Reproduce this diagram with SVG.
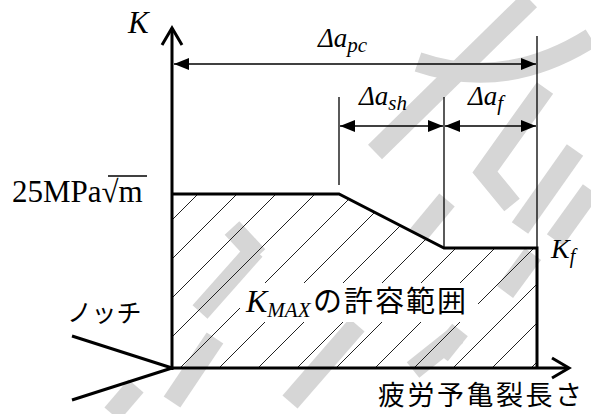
<svg xmlns="http://www.w3.org/2000/svg" width="591" height="414" viewBox="0 0 591 414">
<defs>
<style>
.ax{stroke:#000;stroke-width:3;fill:none;stroke-linecap:butt}
.dim{stroke:#000;stroke-width:1.3;fill:none}
.hat{stroke:#222;stroke-width:1}
.wm{fill:none;stroke:#d6d6d6;stroke-width:20}
.ser{font-family:"Liberation Serif","Times New Roman",serif;font-style:italic;fill:#000}
.jp{font-family:"Noto Sans CJK JP","Noto Sans",sans-serif;fill:#000}
</style>
<marker id="ah" markerWidth="16" markerHeight="12" refX="15" refY="6" orient="auto-start-reverse" markerUnits="userSpaceOnUse">
<path d="M0,0 L15,6 L0,12 Z" fill="#000"/>
</marker>
<clipPath id="rc"><polygon points="172,194 339,194 444,248 537,248 537,368 172,368"/></clipPath>
</defs>
<rect width="591" height="414" fill="#fff"/>
<g id="watermark">
<path class="wm" stroke-width="24" d="M530,0 L375,152"/>
<path class="wm" d="M418,62 Q505,92 591,38"/>
<path class="wm" d="M545,88 L485,172 L512,205"/>
<path class="wm" d="M575,150 L520,228"/>
<path class="wm" d="M591,190 L555,240"/>
<path class="wm" d="M447,200 L418,235"/>
<path class="wm" d="M255,250 L200,312"/>
<path class="wm" d="M232,228 L258,256"/>
<path class="wm" d="M215,338 L172,402"/>
<path class="wm" d="M136,386 L112,414"/>
<path class="wm" d="M357,325 L290,402"/>
<path class="wm" d="M457,335 L413,370"/>
<path class="wm" d="M533,254 L505,292"/>
<path class="wm" d="M460,330 L440,355"/>
</g>
<g id="region">
<g clip-path="url(#rc)" class="hat">
<line x1="-28" y1="420" x2="392" y2="0"/>
<line x1="11" y1="420" x2="431" y2="0"/>
<line x1="50" y1="420" x2="470" y2="0"/>
<line x1="89" y1="420" x2="509" y2="0"/>
<line x1="128" y1="420" x2="548" y2="0"/>
<line x1="167" y1="420" x2="587" y2="0"/>
<line x1="206" y1="420" x2="626" y2="0"/>
<line x1="245" y1="420" x2="665" y2="0"/>
<line x1="284" y1="420" x2="704" y2="0"/>
<line x1="323" y1="420" x2="743" y2="0"/>
<line x1="362" y1="420" x2="782" y2="0"/>
<line x1="401" y1="420" x2="821" y2="0"/>
<line x1="440" y1="420" x2="860" y2="0"/>
<line x1="479" y1="420" x2="899" y2="0"/>
</g>
<polyline class="ax" points="172,194 339,194 444,248 537,248 537,368"/>
</g>
<g id="axes">
<line class="ax" x1="172" y1="370" x2="172" y2="28"/>
<polyline class="ax" points="162,45 172,28 182,45"/>
<line class="ax" x1="170" y1="368" x2="568" y2="368"/>
<polyline class="ax" points="552,358 569,368 552,378"/>
<line class="ax" x1="172" y1="368" x2="72" y2="336"/>
<line class="ax" x1="172" y1="368" x2="72" y2="400"/>
</g>
<g id="connectors">
<line class="dim" x1="339" y1="97" x2="339" y2="185"/>
<line class="dim" x1="444" y1="97" x2="444" y2="248"/>
<line class="dim" x1="537" y1="36" x2="537" y2="248"/>
<line class="dim" x1="174" y1="64" x2="536" y2="64" marker-start="url(#ah)" marker-end="url(#ah)"/>
<line class="dim" x1="340" y1="126" x2="443" y2="126" marker-start="url(#ah)" marker-end="url(#ah)"/>
<line class="dim" x1="445" y1="126" x2="536" y2="126" marker-start="url(#ah)" marker-end="url(#ah)"/>
</g>
<g id="labels">
<text class="ser" x="128" y="33" font-size="31">K</text>
<text class="ser" x="318" y="47" font-size="27">Δa<tspan font-size="21" dy="5">pc</tspan></text>
<text class="ser" x="359" y="105" font-size="27">Δa<tspan font-size="21" dy="5">sh</tspan></text>
<text class="ser" x="468" y="105" font-size="27">Δa<tspan font-size="21" dy="5">f</tspan></text>
<text class="ser" x="551" y="258" font-size="28">K<tspan font-size="20" dy="5">f</tspan></text>
<text x="12" y="202" font-family="Liberation Serif,serif" font-size="31">25MPa√m</text>
<line x1="108" y1="176" x2="147" y2="176" stroke="#000" stroke-width="1.3"/>
<text class="jp" x="67" y="322" font-size="25">ノッチ</text>
<rect x="240" y="283" width="238" height="39" fill="#fff"/>
<text class="ser" x="246" y="312" font-size="32">K<tspan font-size="21" dy="5">MAX</tspan></text>
<text class="jp" x="313" y="312" font-size="29" letter-spacing="2">の許容範囲</text>
<text class="jp" x="378" y="405" font-size="27" letter-spacing="2.5">疲労予亀裂長さ</text>
</g>
</svg>
